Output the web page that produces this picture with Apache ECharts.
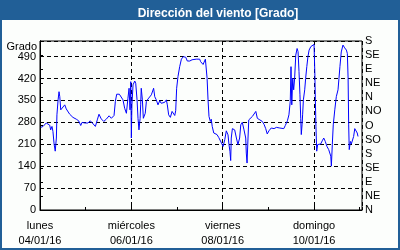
<!DOCTYPE html>
<html>
<head>
<meta charset="utf-8">
<script src="https://cdn.jsdelivr.net/npm/echarts@6/dist/echarts.min.js"></script>
<style>
html,body{margin:0;padding:0;}
#wrap{position:relative;width:400px;height:250px;background:#215f97;}
#panel{position:absolute;left:2px;top:20px;width:396px;height:228px;background:#fcfefc;}
#c{position:absolute;left:0;top:0;width:400px;height:250px;}
</style>
</head>
<body>
<div id="wrap"><div id="panel"></div><div id="c"></div></div>
<script>
// Hours since 04/01/16 00:00
const hours = [0.4,1.6,3.3,5.1,5.6,6.3,6.8,7.4,8.0,8.6,8.9,9.5,10.0,10.4,10.9,11.7,13.0,13.8,15.6,17.3,19.1,20.3,21.4,22.1,23.5,25.2,26.4,27.5,29.1,30.1,31.0,32.2,33.5,34.8,36.3,37.5,38.9,39.6,40.3,41.0,41.7,
42.7,43.6,44.5,45.4,46.2,46.8,47.3,47.7,48.0,48.3,48.9,49.8,50.3,51.0,51.5,52.0,52.6,52.9,53.2,53.8,54.3,55.0,55.3,55.9,56.8,57.6,58.5,59.7,60.3,61.1,62.0,62.9,63.7,64.6,65.5,66.4,66.9,67.6,68.5,69.4,70.0,70.8,71.3,71.8,72.5,73.4,74.3,75.3,76.6,77.4,78.7,79.9,80.9,82.1,83.9,
84.4,85.7,86.5,86.9,87.4,87.8,88.3,88.8,89.5,90.0,90.5,91.3,92.3,93.0,93.9,94.7,95.6,96.2,97.1,97.9,98.8,99.3,99.8,100.2,100.5,101.1,101.8,102.3,103.2,104.0,104.9,105.5,106.3,107.2,108.1,108.4,108.8,109.3,109.7,110.5,111.6,112.5,113.4,114.2,115.5,116.8,117.7,118.6,119.4,120.3,121.5,123.0,124.2,126.0,
126.8,128.1,128.9,130.0,130.8,131.5,131.9,132.3,132.8,133.3,133.8,134.4,135.1,135.6,136.1,136.6,137.0,137.3,137.7,138.0,138.4,139.1,139.6,140.2,140.8,141.4,142.3,143.1,144.0,144.4,144.7,145.0,145.4,145.9,146.6,147.5,148.3,149.1,149.9,150.8,151.7,152.2,152.8,153.1,153.6,154.1,154.9,155.7,156.6,157.1,157.6,158.3,159.2,160.1,161.0,161.5,161.9,162.2,162.5,163.1,163.6,164.1,164.8,165.4,166.2,166.7,167.1];
const direction = [264,267,278,271,256,267,251,211,188,230,304,352,378,362,320,325,336,323,306,296,290,285,270,280,278,278,285,278,267,288,306,291,283,290,301,293,302,347,370,375,370,
368,352,325,309,357,389,320,410,230,336,400,412,405,352,293,256,293,336,389,352,293,290,309,347,355,359,368,389,362,352,336,349,341,341,344,352,336,304,296,315,320,302,317,389,426,458,482,490,488,476,476,480,476,482,482,
474,465,463,482,480,421,352,299,283,290,267,246,240,241,232,227,211,203,225,253,240,209,188,158,230,260,264,256,230,209,230,272,280,256,230,182,150,230,288,293,299,304,315,293,288,283,274,260,243,253,262,260,264,262,
264,260,270,285,304,347,458,336,421,384,421,495,516,506,442,368,293,241,272,304,352,384,421,458,490,511,522,527,529,442,352,267,188,209,207,211,221,230,219,203,193,198,172,140,209,272,320,362,384,421,458,505,527,518,511,500,421,272,193,219,211,214,235,260,260,246,235];
const dayNames = ['lunes','miércoles','viernes','domingo'];
const dayDates = ['04/01/16','06/01/16','08/01/16','10/01/16'];
const compassLabels = ['N','NE','E','SE','S','SO','O','NO','N','NE','E','SE','S'];
const leftTicks = [0,70,140,210,280,350,420,490];

const FONT = 'Liberation Sans';
const seriesData = hours.map((h,i)=>[h, direction[i]]);
const chart = echarts.init(document.getElementById('c'), null, {renderer:'canvas'});
chart.setOption({
  animation:false,
  backgroundColor:'transparent',
  title:{text:'Dirección del viento [Grado]', left:213, top:3, textAlign:'center',
    textStyle:{color:'#ffffff', fontFamily:FONT, fontWeight:'bold', fontSize:12}},
  graphic:[{type:'text', x:37, y:47, style:{text:'Grado', textAlign:'right', textVerticalAlign:'middle', font:'11px "Liberation Sans"', fill:'#000'}}],
  grid:{left:40, right:38, top:41, bottom:40, show:true, borderColor:'#000', borderWidth:1, backgroundColor:'transparent'},
  xAxis:[{
    type:'value', min:0, max:169.2, interval:48, position:'bottom',
    axisLine:{lineStyle:{color:'#000'}},
    axisTick:{show:true, inside:true, length:4, lineStyle:{color:'#000'}},
    splitLine:{show:true, lineStyle:{color:'#000', type:[4,3], width:1}},
    axisLabel:{margin:8, color:'#000', fontFamily:FONT, fontSize:11, lineHeight:15, showMaxLabel:false,
      formatter:function(v){const i=Math.round(v/48); if(Math.abs(v-i*48)>0.01||i>=dayNames.length) return ''; return dayNames[i]+'\n'+dayDates[i];}}
  },{
    type:'value', min:0, max:169.2, interval:24, position:'bottom', gridIndex:0,
    axisLine:{show:false}, axisLabel:{show:false}, splitLine:{show:false},
    axisTick:{show:true, inside:true, length:3, lineStyle:{color:'#000'}}
  }],
  yAxis:[{
    type:'value', min:0, max:540, interval:70, position:'left',
    axisLine:{show:true, lineStyle:{color:'#000'}},
    axisTick:{show:false},
    splitLine:{show:true, lineStyle:{color:'#000', type:[4,3], width:1}},
    axisLabel:{margin:4, color:'#000', fontFamily:FONT, fontSize:11,
      formatter:function(v){return leftTicks.indexOf(v)>=0 ? String(v) : '';}}
  },{
    type:'value', min:0, max:540, interval:45, position:'right',
    axisLine:{show:true, lineStyle:{color:'#000'}},
    axisTick:{show:true, inside:false, length:3, lineStyle:{color:'#000'}},
    splitLine:{show:false},
    axisLabel:{margin:3, color:'#000', fontFamily:FONT, fontSize:11,
      formatter:function(v){const i=Math.round(v/45); return compassLabels[i]||'';}}
  }],
  series:[{type:'line', data:seriesData, xAxisIndex:0, yAxisIndex:0, showSymbol:false, symbol:'none',
    lineStyle:{color:'#0000ff', width:1}, z:5}]
});
</script>
</body>
</html>
